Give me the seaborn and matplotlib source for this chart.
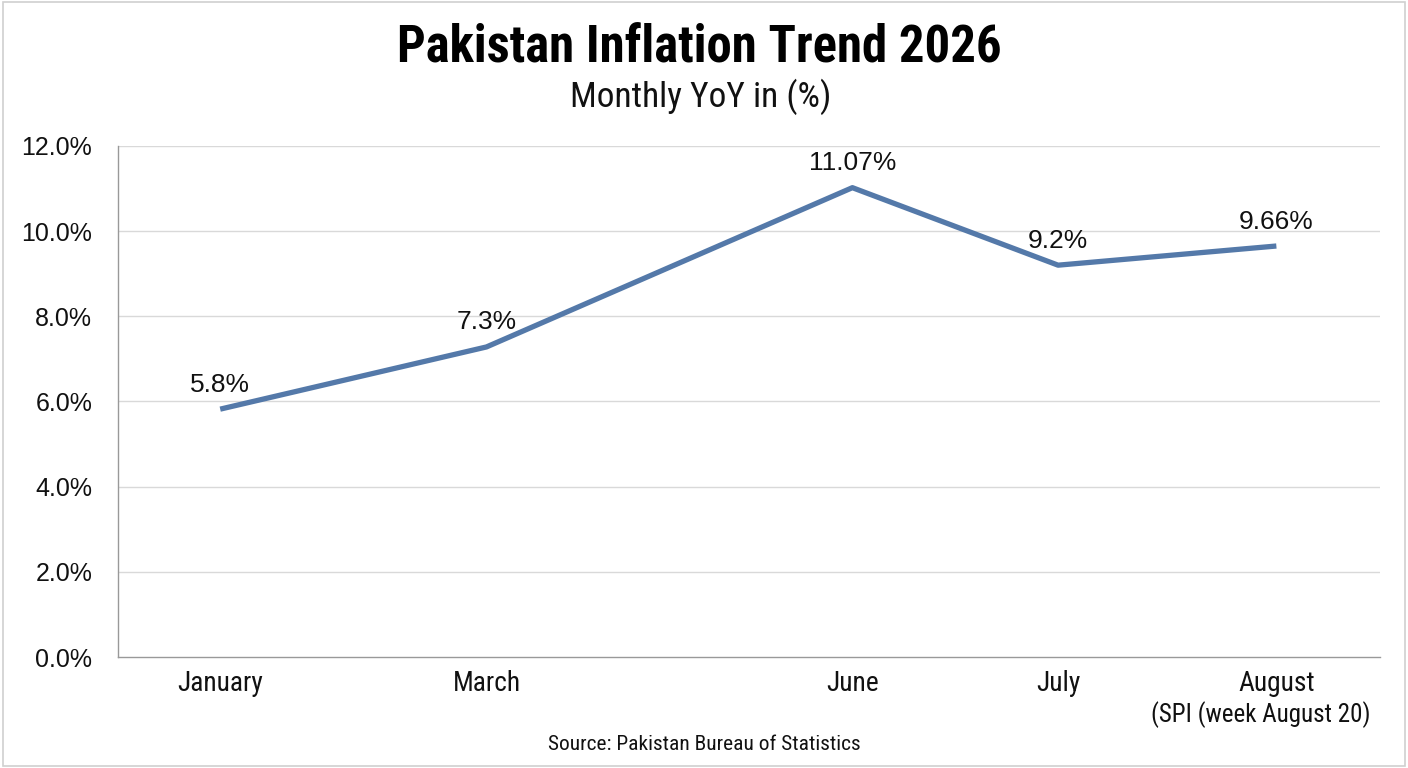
import numpy as np
import pandas as pd
import seaborn as sns
import matplotlib.pyplot as plt
from matplotlib.patches import Rectangle

# chart data
months = ["January", "March", "June", "July", "August"]
month_notes = ["", "", "", "", "(SPI (week August 20)"]
inflation = [5.82, 7.28, 11.02, 9.2, 9.65]
value_labels = ["5.8%", "7.3%", "11.07%", "9.2%", "9.66%"]
x_slots = [0.081, 0.292, 0.582, 0.745, 0.918]  # uneven category spacing as in the source
y_ticks = [0, 2, 4, 6, 8, 10, 12]

sns.set_theme(style="white")
plt.rcParams['font.family'] = ['Liberation Sans', 'DejaVu Sans']
narrow = ['Roboto Condensed', 'Liberation Sans', 'DejaVu Sans']

df = pd.DataFrame({"slot": x_slots, "value": inflation, "month": months})

fig = plt.figure(figsize=(14.08, 7.68), dpi=100)
ax = fig.add_axes([0.0838, 0.1445, 0.8962, 0.6655])

sns.lineplot(data=df, x="slot", y="value", ax=ax, color="#5479a9", linewidth=3.8,
             solid_capstyle="butt")

for x, y, lab in zip(x_slots, inflation, value_labels):
    ax.annotate(lab, (x, y), xytext=(0, 9), textcoords="offset points",
                ha="center", va="bottom", fontsize=19, color="#111111")

ax.set_xlim(0, 1)
ax.set_ylim(0, 12)
ax.set_yticks(y_ticks)
ax.set_yticklabels([f"{t:.1f}%" for t in y_ticks], fontsize=18, color="#111111")
ax.set_xticks(x_slots)
ax.set_xticklabels(months, fontsize=19.8, color="#111111", family=narrow)
ax.set_xlabel("")
ax.set_ylabel("")
ax.tick_params(axis="y", length=7.5, color="#999999", width=1, pad=11)
ax.tick_params(axis="x", length=0, pad=9)

for y in y_ticks[1:]:
    ax.axhline(y, color="#d9d9d9", linewidth=1, zorder=0)

for side in ["top", "right"]:
    ax.spines[side].set_visible(False)
ax.spines["left"].set_color("#999999")
ax.spines["bottom"].set_color("#999999")
ax.spines["left"].set_linewidth(1)
ax.spines["bottom"].set_linewidth(1)

for x, note in zip(x_slots, month_notes):
    if note:
        ax.annotate(note, (x, 0), xycoords=("data", "data"), xytext=(-11, -32),
                    textcoords="offset points", ha="center", va="top",
                    fontsize=18, color="#111111", family=narrow)

fig.text(0.497, 0.937, "Pakistan Inflation Trend 2026", ha="center", va="center",
         fontsize=36.5, fontweight="bold", family=narrow, color="#000000")
fig.text(0.498, 0.874, "Monthly YoY in (%)", ha="center", va="center",
         fontsize=25.5, family=narrow, color="#111111")
fig.text(0.5, 0.031, "Source: Pakistan Bureau of Statistics", ha="center", va="center",
         fontsize=15.4, family=narrow, color="#111111")

fig.patches.append(Rectangle((0.002, 0.002), 0.996, 0.996, transform=fig.transFigure,
                             fill=False, edgecolor="#d0d0d0", linewidth=1.2))

fig.savefig("out.png", dpi=100)
